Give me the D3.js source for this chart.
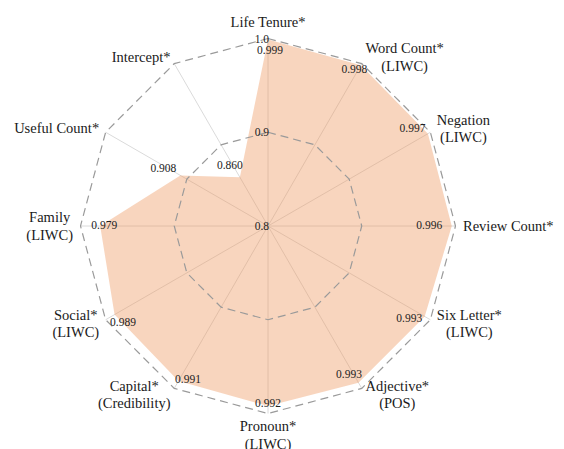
<!DOCTYPE html>
<html>
<head>
<meta charset="utf-8">
<script src="https://cdn.jsdelivr.net/npm/d3@7"></script>
<style>
  html, body { margin: 0; padding: 0; background: #fff; }
  svg { display: block; }
  svg text { font-family: "Liberation Serif", "Times New Roman", Times, serif; }
</style>
</head>
<body>
<svg id="chart" width="564" height="449"></svg>
<script>
// Feature labels (clockwise from the top); "\n" splits a label onto two lines
const features = [
  "Life Tenure*", "Word Count*\n(LIWC)", "Negation\n(LIWC)", "Review Count*",
  "Six Letter*\n(LIWC)", "Adjective*\n(POS)", "Pronoun*\n(LIWC)", "Capital*\n(Credibility)",
  "Social*\n(LIWC)", "Family\n(LIWC)", "Useful Count*", "Intercept*"
];
const scores = [0.999, 0.998, 0.997, 0.996, 0.993, 0.993, 0.992, 0.991, 0.989, 0.979, 0.908, 0.860];
const radialTicks = [0.8, 0.9, 1.0];
const tickText = ["0.8", "0.9", "1.0"];

// Small offsets that keep each value label clear of the polygon edge
const valueNudge = [
  [2, 11], [-6.5, 4], [-15.5, -6], [-22.5, -1], [-15.5, 2], [-9.5, -9],
  [0, -3.5], [9.5, -2], [8.5, 7], [4, -1], [-17, -7.5], [-10, -12]
];

const FONT = "'Liberation Serif', 'Times New Roman', Times, serif";
const svg = d3.select("#chart");
const cx = 268, cy = 226, R = 187.5, labelR = 195;
const fsAxis = 14.5, fsVal = 11.5, lineH = 17.5;

const r = d3.scaleLinear().domain([0.8, 1.0]).range([0, R]);
const angle = d3.scaleLinear().domain([0, features.length]).range([0, 2 * Math.PI]);

const pt = (i, v) => {
  const a = angle(i);
  return [cx + r(v) * Math.sin(a), cy - r(v) * Math.cos(a)];
};

const g = svg.append("g");

// spokes
g.selectAll("line.spoke").data(features).join("line")
  .attr("class", "spoke")
  .attr("x1", cx).attr("y1", cy)
  .attr("x2", (d, i) => pt(i, 1.0)[0])
  .attr("y2", (d, i) => pt(i, 1.0)[1])
  .attr("stroke", "#d6d6d6").attr("stroke-width", 0.9);

// score polygon
const lineGen = d3.line().curve(d3.curveLinearClosed);
g.append("path")
  .attr("d", lineGen(scores.map((v, i) => pt(i, v))))
  .attr("fill", "rgb(238,150,92)").attr("fill-opacity", 0.4)
  .attr("stroke", "none");

// dashed polygon rings
radialTicks.filter(t => t > 0.8).forEach(t => {
  g.append("path")
    .attr("d", lineGen(features.map((d, i) => pt(i, t))))
    .attr("fill", "none")
    .attr("stroke", "#9a9a9a").attr("stroke-width", 1.2)
    .attr("stroke-dasharray", "8,5");
});

// radial tick labels along the top spoke
g.selectAll("text.tick").data(radialTicks).join("text")
  .attr("class", "tick")
  .attr("x", cx + 1)
  .attr("y", d => cy - r(d))
  .attr("dy", "0.35em")
  .attr("text-anchor", "end")
  .attr("font-family", FONT)
  .attr("font-size", fsVal)
  .attr("fill", "#222")
  .text((d, i) => tickText[i]);

// value labels
g.selectAll("text.val").data(scores).join("text")
  .attr("class", "val")
  .attr("x", (d, i) => pt(i, d)[0] + valueNudge[i][0])
  .attr("y", (d, i) => pt(i, d)[1] + valueNudge[i][1])
  .attr("dy", "0.35em")
  .attr("text-anchor", "middle")
  .attr("font-family", FONT)
  .attr("font-size", fsVal)
  .attr("fill", "#222")
  .text(d => d3.format(".3f")(d));

// feature labels, placed just outside the outer ring
features.forEach((name, i) => {
  const lines = name.split("\n");
  const a = angle(i);
  const s = Math.sin(a), c = Math.cos(a);
  const ax = cx + labelR * s, ay = cy - labelR * c;
  const lg = g.append("g");
  const t = lg.append("text")
    .attr("text-anchor", "middle")
    .attr("font-family", FONT)
    .attr("font-size", fsAxis)
    .attr("fill", "#1a1a1a");
  lines.forEach((ln, k) => {
    t.append("tspan").attr("x", 0).attr("y", k * lineH).text(ln);
  });
  const w = d3.max(t.selectAll("tspan").nodes(), n => n.getComputedTextLength());
  const n = lines.length;
  let tx, ty;
  if (Math.abs(s) < 0.01) {
    tx = ax;
    if (c > 0) ty = ay - 4 - (n - 1) * lineH;     // top: block sits above the ring
    else ty = ay + 0.72 * fsAxis;                 // bottom: block hangs below the ring
  } else {
    tx = s > 0 ? ax + w / 2 : ax - w / 2;
    ty = ay - (n - 1) * lineH / 2 + 0.33 * fsAxis;
  }
  lg.attr("transform", `translate(${tx},${ty})`);
});
</script>
</body>
</html>
